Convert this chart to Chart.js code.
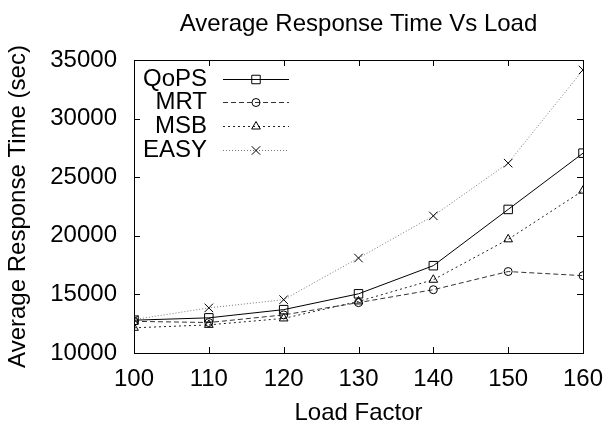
<!DOCTYPE html>
<html>
<head>
<meta charset="utf-8">
<script src="https://cdn.jsdelivr.net/npm/chart.js@4/dist/chart.umd.min.js"></script>
<style>
  html, body { margin: 0; padding: 0; background: #fff; }
  #wrap { width: 605px; height: 428px; }
</style>
</head>
<body>
<div id="wrap"><canvas id="c" width="605" height="428"></canvas></div>
<script>
// ---- data ----
const loadFactors = [100, 110, 120, 130, 140, 150, 160];
const qops = [12800, 13000, 13700, 15050, 17450, 22250, 27050];
const mrt  = [12700, 12600, 13250, 14300, 15400, 16950, 16600];
const msb  = [12150, 12400, 12950, 14400, 16250, 19700, 23850];
const easy = [12850, 13850, 14550, 18100, 21700, 26200, 34150];
const seriesNames = ['QoPS', 'MRT', 'MSB', 'EASY'];
const yTicks = [10000, 15000, 20000, 25000, 30000, 35000];
const xTicks = [100, 110, 120, 130, 140, 150, 160];

const FONT = 'Liberation Sans, Arial, Helvetica, sans-serif';
const FS = 24;

function pts(arr) { return arr.map((v, i) => ({ x: loadFactors[i], y: v })); }

const styles = [
  { color: '#000000', dash: [],     point: 'rect',     r: 6 },
  { color: '#333333', dash: [5, 3], point: 'circle',   r: 4 },
  { color: '#222222', dash: [2, 3], point: 'triangle', r: 5 },
  { color: '#777777', dash: [1, 2], point: 'crossRot', r: 6 }
];
const seriesData = [qops, mrt, msb, easy];

const datasets = seriesData.map((d, i) => ({
  label: seriesNames[i],
  data: pts(d),
  borderColor: styles[i].color,
  borderWidth: 1,
  borderDash: styles[i].dash,
  pointStyle: styles[i].point,
  pointRadius: styles[i].r,
  pointHoverRadius: styles[i].r,
  pointBorderColor: '#000000',
  pointBackgroundColor: 'rgba(0,0,0,0)',
  pointBorderWidth: 1,
  tension: 0,
  fill: false
}));

// Frame with mirrored inward ticks
const framePlugin = {
  id: 'frame',
  afterDatasetsDraw(chart) {
    const { ctx, chartArea: a, scales } = chart;
    ctx.save();
    ctx.strokeStyle = '#000';
    ctx.lineWidth = 1;
    ctx.setLineDash([]);
    ctx.strokeRect(Math.round(a.left) + 0.5, Math.round(a.top) + 0.5,
                   Math.round(a.right - a.left), Math.round(a.bottom - a.top));
    const TL = 6;
    ctx.beginPath();
    xTicks.forEach(v => {
      const x = Math.round(scales.x.getPixelForValue(v)) + 0.5;
      ctx.moveTo(x, a.bottom); ctx.lineTo(x, a.bottom - TL);
      ctx.moveTo(x, a.top); ctx.lineTo(x, a.top + TL);
    });
    yTicks.forEach(v => {
      const y = Math.round(scales.y.getPixelForValue(v)) + 0.5;
      ctx.moveTo(a.left, y); ctx.lineTo(a.left + TL, y);
      ctx.moveTo(a.right, y); ctx.lineTo(a.right - TL, y);
    });
    ctx.stroke();
    ctx.restore();
  }
};

// gnuplot-style key: text right-aligned, then line sample with marker
const keyPlugin = {
  id: 'gkey',
  afterDatasetsDraw(chart) {
    const { ctx } = chart;
    const textRight = 207, lineL = 223, lineR = 289, markX = 256;
    const ys = [79, 102, 126, 150];
    ctx.save();
    chart.data.datasets.forEach((ds, i) => {
      const y = ys[i];
      ctx.font = FS + 'px ' + FONT;
      ctx.fillStyle = '#000';
      ctx.textAlign = 'right';
      ctx.textBaseline = 'middle';
      ctx.fillText(ds.label, textRight, y);
      ctx.strokeStyle = ds.borderColor;
      ctx.lineWidth = 1;
      ctx.setLineDash(ds.borderDash);
      ctx.beginPath();
      ctx.moveTo(lineL, y + 0.5);
      ctx.lineTo(lineR, y + 0.5);
      ctx.stroke();
      ctx.setLineDash([]);
      ctx.strokeStyle = '#000';
      ctx.fillStyle = 'rgba(0,0,0,0)';
      Chart.helpers.drawPoint(ctx, {
        pointStyle: ds.pointStyle, radius: ds.pointRadius, rotation: 0, borderWidth: 1
      }, markX, y + 0.5);
    });
    ctx.restore();
  }
};

new Chart(document.getElementById('c'), {
  type: 'line',
  data: { datasets },
  plugins: [framePlugin, keyPlugin],
  options: {
    responsive: false,
    animation: false,
    events: [],
    layout: { padding: { left: 0, right: 22, top: 0, bottom: 0 } },
    plugins: {
      legend: { display: false },
      tooltip: { enabled: false },
      title: {
        display: true,
        text: 'Average Response Time Vs Load',
        fullSize: false,
        color: '#000',
        font: { family: FONT, size: FS, weight: 'normal' },
        padding: { top: 10, bottom: 21.2 }
      }
    },
    scales: {
      x: {
        type: 'linear',
        min: 100, max: 160,
        afterFit(s) { s.height = 75; s.paddingLeft = 0; s.paddingRight = 0; },
        afterBuildTicks(s) { s.ticks = xTicks.map(v => ({ value: v })); },
        ticks: {
          color: '#000',
          font: { family: FONT, size: FS },
          padding: 12,
          maxRotation: 0,
          autoSkip: false,
          callback: v => String(v)
        },
        grid: { display: false, drawTicks: false },
        border: { display: false },
        title: {
          display: true,
          text: 'Load Factor',
          color: '#000',
          font: { family: FONT, size: FS },
          padding: { top: 0, bottom: 0 }
        }
      },
      y: {
        type: 'linear',
        min: 10000, max: 35000,
        afterFit(s) { s.width = 134; s.paddingTop = 0; s.paddingBottom = 0; },
        afterBuildTicks(s) { s.ticks = yTicks.map(v => ({ value: v })); },
        ticks: {
          color: '#000',
          font: { family: FONT, size: FS },
          padding: 17,
          autoSkip: false,
          callback: v => String(v)
        },
        grid: { display: false, drawTicks: false },
        border: { display: false },
        title: {
          display: true,
          text: 'Average Response Time (sec)',
          color: '#000',
          font: { family: FONT, size: FS },
          padding: { top: 4, bottom: 4 }
        }
      }
    }
  }
});
</script>
</body>
</html>
